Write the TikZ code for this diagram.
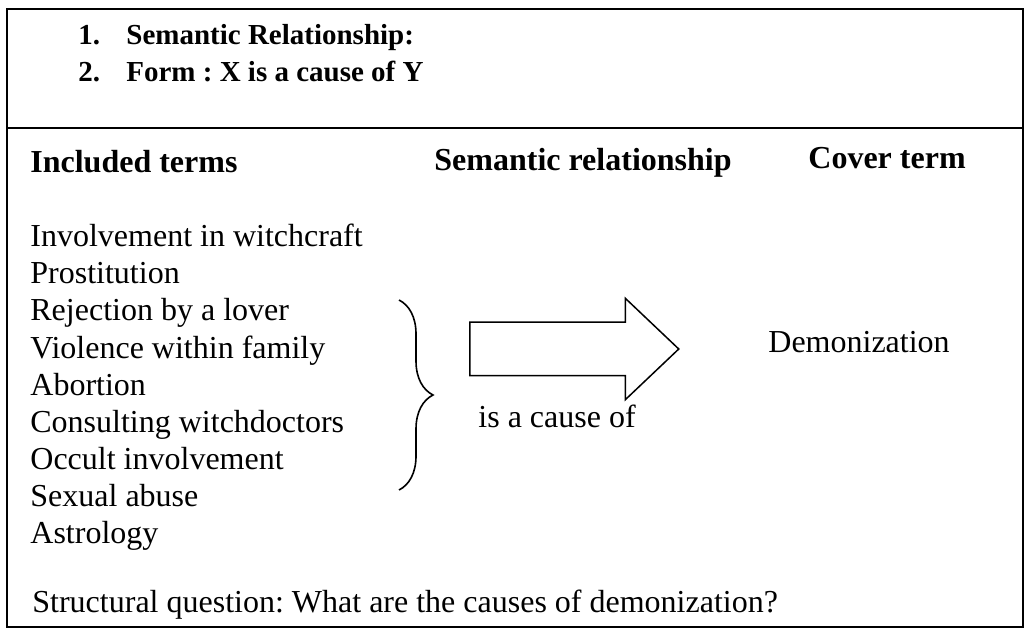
\documentclass[tikz,border=0pt]{standalone}
\usepackage{fontspec}
\setmainfont{Liberation Serif}
\usetikzlibrary{positioning, shapes.arrows, decorations.pathreplacing}
\frenchspacing

\begin{document}
\begin{tikzpicture}[x=0.5pt, y=-0.5pt,
        TTL/.style = {anchor=base west, inner sep=0pt, font=\fontsize{14.5}{17}\selectfont\bfseries},%
        HD/.style = {anchor=base west, inner sep=0pt, font=\fontsize{16}{18}\selectfont\bfseries},%
        TXT/.style = {anchor=base west, inner sep=0pt, font=\fontsize{16}{18}\selectfont},%
        CAUSE/.style = {single arrow, draw, line width=0.75pt, inner xsep=0pt, inner ysep=13pt,
                        anchor=tail, minimum height=104.5pt,
                        single arrow head extend=12pt, single arrow tip angle=87},%
        BR/.style = {decorate, decoration={brace, amplitude=17pt}, line width=0.8pt}%
    ]%
        \useasboundingbox (0,0) rectangle (1027,630);
        % frame
        \draw[line width=1pt] (7,9) rectangle (1023,627);
        \draw[line width=1pt] (7,128) -- (1023,128);
        % heading
        \node[TTL] (t1) at (78,45) {\makebox[24pt][l]{1.}Semantic Relationship:};
        \node[TTL] (t2) at (78,82) {\makebox[24pt][l]{2.}Form : X is a cause of Y};
        % columns
        \node[HD] (inc) at (30,173) {Included terms};
        \node[HD] (rel) at (434,171) {Semantic relationship};
        \node[HD] (cov) at (808,169) {Cover term};
        \foreach \t [count=\k] in {Involvement in witchcraft, Prostitution, Rejection by a lover,
            Violence within family, Abortion, Consulting witchdoctors, Occult involvement,
            Sexual abuse, Astrology}
            \node[TXT] (i\k) at (30,{247+37*(\k-1)}) {\t};
        \draw[BR] (399,300) -- (399,490);
        \node[CAUSE] (arr) at (469,349) {};
        \node[TXT] (cs) at (478,427) {is a cause of};
        \node[TXT] (dem) at (768,352) {Demonization};
        \node[TXT] (q) at (32,612) {Structural question: What are the causes of demonization?};
    \end{tikzpicture}
\end{document}
